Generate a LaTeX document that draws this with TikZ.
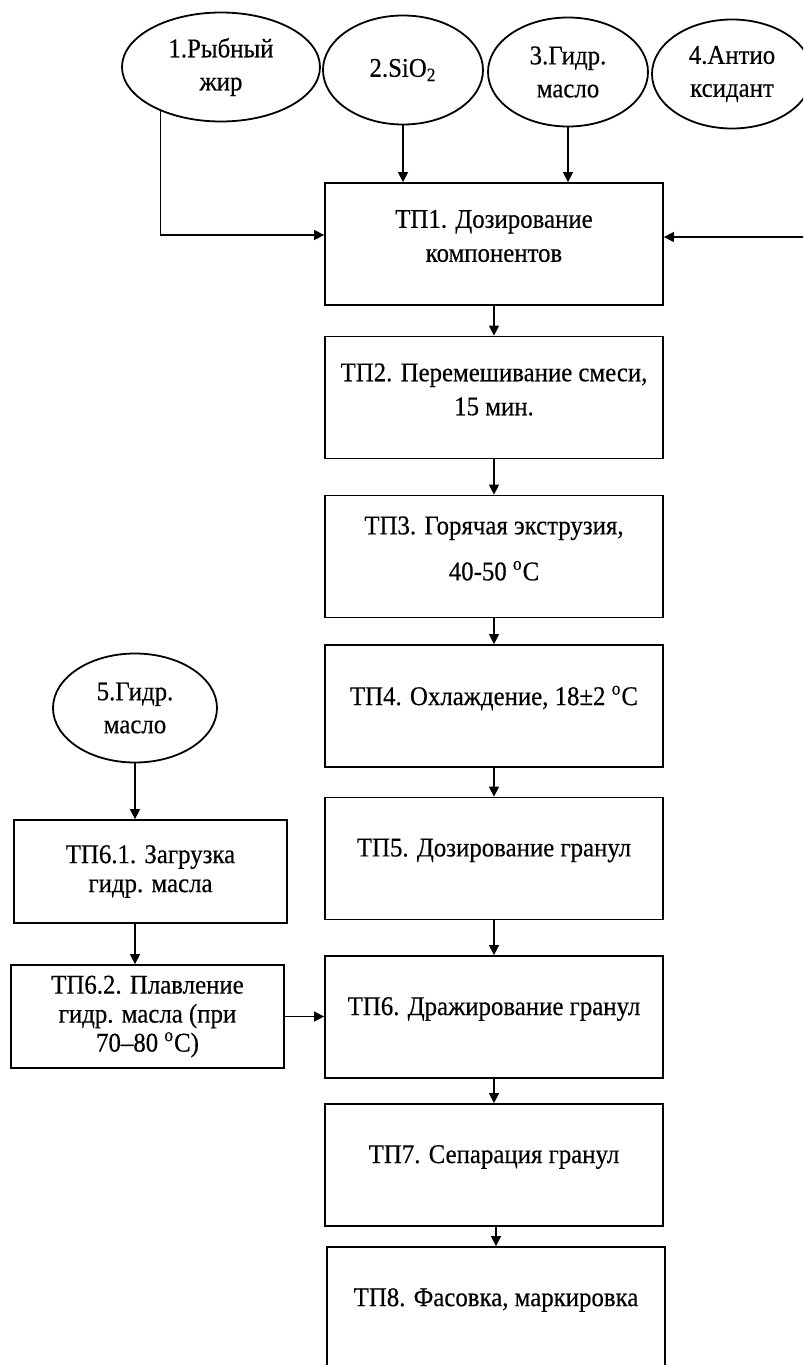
\documentclass[tikz,border=0pt]{standalone}
\usepackage{fontspec}
\setmainfont[FakeStretch=0.92,FakeBold=0.4]{Liberation Serif}
\usetikzlibrary{arrows.meta,shapes.geometric}
\tikzset{
  stepbox/.style={draw, line width=0.9pt, minimum width=169pt, minimum height=61pt},
  steptext/.style={yshift=4pt, align=center, font=\fontsize{13.5}{17}\selectfont},
  subbox/.style={draw, line width=0.9pt, minimum width=136.5pt, minimum height=51.5pt,
    align=center, font=\fontsize{13.5}{14.5}\selectfont},
  source/.style={draw, ellipse, line width=0.9pt, minimum height=54.5pt, inner sep=0pt,
    align=center, font=\fontsize{13.5}{16.5}\selectfont},
  flow/.style={line width=0.75pt, -{Triangle[length=5pt,width=5pt]}}
}

\begin{document}
\begin{tikzpicture}[x=0.5pt, y=-0.5pt]
  \useasboundingbox (0,0) rectangle (803,1365);
  \clip (0,0) rectangle (803,1365);

  % raw materials
  \node[source, minimum width=99pt] (e1) at (221,67)  {1.Рыбный\\жир};
  \node[source, minimum width=80pt] (e2) at (403,70)  {2.SiO\textsubscript{2}};
  \node[source, minimum width=80pt] (e3) at (568,72)  {3.Гидр.\\масло};
  \node[source, minimum width=80pt] (e4) at (732,74)  {4.Антио\\ксидант};
  \node[source, minimum width=82pt] (e5) at (135,708) {5.Гидр.\\масло};

  % main line
  \node[stepbox, label={[steptext]center:ТП1. Дозирование\\компонентов}] (tp1) at (494,244) {};
  \node[stepbox, label={[steptext]center:{ТП2. Перемешивание смеси,\\15 мин.}}] (tp2) at (494,397.5) {};
  \node[stepbox, label={[steptext]center:{ТП3. Горячая экструзия,\\[6pt]40-50 \textsuperscript{o}C}}] (tp3) at (494,556.5) {};
  \node[stepbox, label={[steptext]center:{ТП4. Охлаждение, 18±2 \textsuperscript{o}C}}] (tp4) at (494,706) {};
  \node[stepbox, label={[steptext]center:ТП5. Дозирование гранул}] (tp5) at (494,858.5) {};
  \node[stepbox, label={[steptext]center:ТП6. Дражирование гранул}] (tp6) at (494,1017) {};
  \node[stepbox, label={[steptext]center:ТП7. Сепарация гранул}] (tp7) at (494,1165) {};
  \node[stepbox, label={[steptext]center:{ТП8. Фасовка, маркировка}}] (tp8) at (496,1308) {};

  % melting branch
  \node[subbox] (tp61) at (150.5,871.5) {ТП6.1. Загрузка\\гидр. масла};
  \node[subbox] (tp62) at (147.5,1016.5) {ТП6.2. Плавление\\гидр. масла (при\\70--80 \textsuperscript{o}C)};

  \coordinate (rin) at (806,237);

  \draw[flow] (e1.216) |- ([yshift=4.5pt]tp1.west);
  \draw[flow] (e2.south) -- (e2.south |- tp1.north);
  \draw[flow] (e3.south) -- (e3.south |- tp1.north);
  \draw[flow] (rin) -- (rin -| tp1.east);

  \draw[flow] (tp1) -- (tp2);
  \draw[flow] (tp2) -- (tp3);
  \draw[flow] (tp3) -- (tp4);
  \draw[flow] (tp4) -- (tp5);
  \draw[flow] (tp5) -- (tp6);
  \draw[flow] (tp6) -- (tp7);
  \draw[flow] (tp7.south -| tp8.north) -- (tp8.north);

  \draw[flow] (e5.south) -- (e5.south |- tp61.north);
  \draw[flow] (e5.south |- tp61.south) -- (e5.south |- tp62.north);
  \draw[flow] (tp62.east) -- (tp62.east -| tp6.west);
\end{tikzpicture}
\end{document}
